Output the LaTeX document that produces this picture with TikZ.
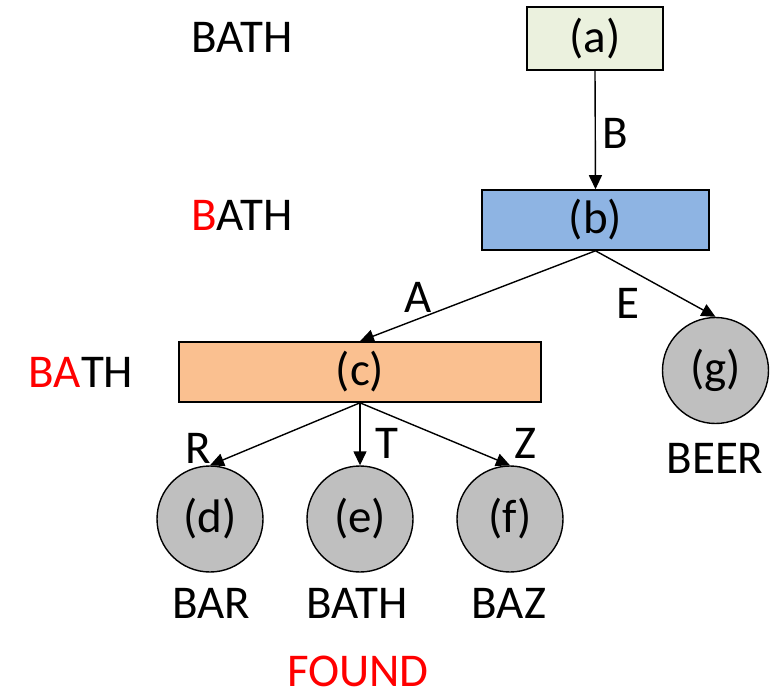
\documentclass[tikz,border=0pt]{standalone}
\usepackage{fontspec}
\setmainfont{Carlito}
\usetikzlibrary{arrows.meta}
\definecolor{fillA}{RGB}{235,241,222}
\definecolor{fillB}{RGB}{142,180,227}
\definecolor{fillC}{RGB}{250,192,144}
\definecolor{fillLeaf}{RGB}{191,191,191}
\definecolor{hilite}{RGB}{255,0,0}
\begin{document}
\begin{tikzpicture}[x=0.5pt,y=-0.5pt,
  every node/.style={font=\fontsize{23.5pt}{27pt}\selectfont, inner sep=0pt},
  trienode/.style={draw=black, line width=0.8pt, rectangle, minimum height=30pt},
  leaf/.style={draw=black, line width=0.7pt, circle, fill=fillLeaf, minimum size=53pt},
  arr/.style={line width=0.7pt, -{Triangle[length=7pt,width=6.5pt]}},
  word/.style={anchor=center}]
  \useasboundingbox (0,0) rectangle (782,691);

  % trie nodes
  \node[trienode, fill=fillA, minimum width=68pt, minimum height=31.5pt] (a) at (595,38.5) {(a)};
  \node[trienode, fill=fillB, minimum width=113.5pt] (b) at (595.5,220) {(b)};
  \node[trienode, fill=fillC, minimum width=181pt] (c) at (360,372) {(c)};
  \node[leaf] (d) at (210,519) {(d)};
  \node[leaf] (e) at (360,519) {(e)};
  \node[leaf] (f) at (510,519) {(f)};
  \node[leaf] (g) at (715.5,370.5) {(g)};

  % edges
  \draw[arr] (a.south) -- (b.north);
  \draw[arr] (b.south) -- (c.north);
  \draw[arr] (b.south) -- (g.north);
  \draw[arr] (c.south) -- (d.north);
  \draw[arr] (c.south) -- (e.north);
  \draw[arr] (c.south) -- (f.north);

  % edge letters
  \node (lB) at (615,133) {B};
  \node (lA) at (418,297) {A};
  \node (lE) at (628,303) {E};
  \node (lR) at (198,448) {R};
  \node (lT) at (387,443) {T};
  \node (lZ) at (525,443) {Z};

  % search progress
  \node[word] (s0) at (242,37.5) {BATH};
  \node[word] (s1) at (242,215) {\textcolor{hilite}{B}ATH};
  \node[word] (s2) at (81,372) {\textcolor{hilite}{BA}TH};

  % stored words
  \node (wd) at (211,603) {BAR};
  \node (we) at (357,603) {BATH};
  \node (wf) at (509,603) {BAZ};
  \node (wg) at (715,458) {BEER};
  \node[text=hilite] (found) at (358,671) {FOUND};
\end{tikzpicture}
\end{document}
